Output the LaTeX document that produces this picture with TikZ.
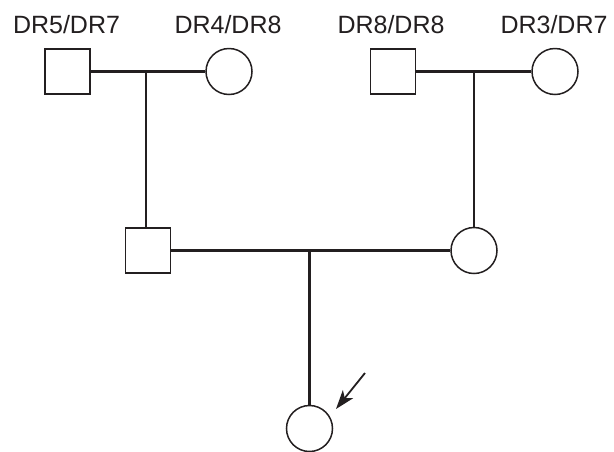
\documentclass[tikz,border=0pt]{standalone}
\usepackage{fontspec}
\setmainfont{Liberation Sans}
\usetikzlibrary{arrows.meta}
\definecolor{ink}{RGB}{35,31,32}
\begin{document}
\begin{tikzpicture}[x=1pt,y=-1pt,
  male/.style={draw=ink, line width=1.5pt, minimum size=45pt, inner sep=0pt, rectangle},
  female/.style={draw=ink, line width=1.5pt, minimum size=46pt, inner sep=0pt, circle},
  link/.style={draw=ink, line width=2.5pt},
  lbl/.style={text=ink, font=\fontsize{25}{29}\selectfont, inner sep=0pt, anchor=base}]
\useasboundingbox (0,0) rectangle (614,451);
\node[male] (m1) at (67.5,71.5) {};
\node[female] (f1) at (229,71.5) {};
\node[male] (m2) at (393,71.5) {};
\node[female] (f2) at (555,71.5) {};
\node[male] (m3) at (148,250.5) {};
\node[female] (f3) at (474,250.5) {};
\node[female] (p) at (309.5,428.5) {};
\node[lbl] (t1) at (66.5,33.5) {DR5/DR7};
\node[lbl] (t2) at (228,33.5) {DR4/DR8};
\node[lbl] (t3) at (391,33.5) {DR8/DR8};
\node[lbl] (t4) at (554,33.5) {DR3/DR7};
\coordinate (c1) at (146,71.5);
\coordinate (c2) at (474,71.5);
\coordinate (c3) at (309.5,250.5);
\coordinate (a0) at (365,373);
\coordinate (a1) at (336,409);
\draw[link] (m1.east) -- (f1.west);
\draw[link] (m2.east) -- (f2.west);
\draw[link] (c1) -- (c1 |- m3.north);
\draw[link] (c2) -- (f3.north);
\draw[link] (m3.east) -- (f3.west);
\draw[link] (c3) -- (p.north);
\draw[ink, line width=1.8pt, -{Stealth[length=19pt,width=13pt,inset=5pt]}] (a0) -- (a1);
\end{tikzpicture}
\end{document}
